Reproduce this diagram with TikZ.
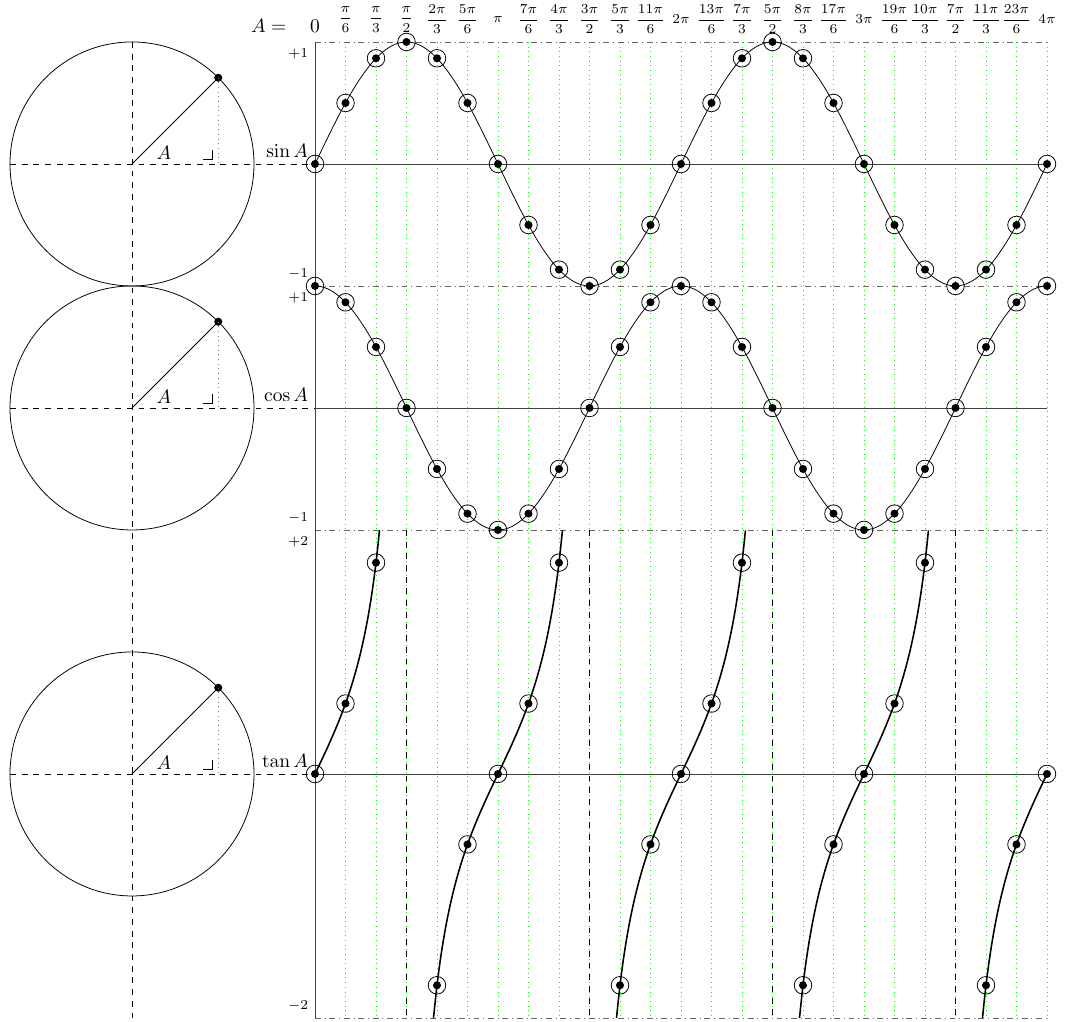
\documentclass[tikz,border=0pt]{standalone}
\usepackage{amsmath}
\usepackage{tikz}
\usetikzlibrary{positioning}

\begin{document}
\begin{tikzpicture}[x=2.2cm, y=2.2cm,
    axisline/.style={black!75},
    limline/.style={black!60, dash dot},
    gridline/.style={green, dotted},
    ticklbl/.style={font=\fontsize{7.5}{9}\selectfont},
    curve/.style={black},
    tancurve/.style={black, thick}]
    \useasboundingbox (-2.582,-7.025) rectangle (6.164,1.344);

    % grid and limits
    \foreach \k in {1,...,24}
        \draw[gridline] ({\k/4},1) -- ({\k/4},-7);
    \foreach \y in {1,-1,-3,-7}
        \draw[limline] (0,\y) -- (6,\y);
    \foreach \x in {0.75,2.25,3.75,5.25}
        \draw[dashed] (\x,-3) -- (\x,-7);
    \draw[axisline] (0,1) -- (0,-7);
    \foreach \y in {0,-2,-5}
        \draw[axisline] (0,\y) -- (6,\y);

    % labels for A
    \node (Aeq) at (-0.38,1.13) {$A=$};
    \node (lbl0) at (0,1.13) {$0$};
    \foreach \k/\t in {1/\dfrac{\pi}{6}, 2/\dfrac{\pi}{3}, 3/\dfrac{\pi}{2}, 4/\dfrac{2\pi}{3},
        5/\dfrac{5\pi}{6}, 6/\pi, 7/\dfrac{7\pi}{6}, 8/\dfrac{4\pi}{3}, 9/\dfrac{3\pi}{2},
        10/\dfrac{5\pi}{3}, 11/\dfrac{11\pi}{6}, 12/2\pi, 13/\dfrac{13\pi}{6}, 14/\dfrac{7\pi}{3},
        15/\dfrac{5\pi}{2}, 16/\dfrac{8\pi}{3}, 17/\dfrac{17\pi}{6}, 18/3\pi, 19/\dfrac{19\pi}{6},
        20/\dfrac{10\pi}{3}, 21/\dfrac{7\pi}{2}, 22/\dfrac{11\pi}{3}, 23/\dfrac{23\pi}{6}, 24/4\pi}
        \node[ticklbl, inner sep=0pt] (lbl\k) at ({\k/4},1.185) {$\t$};

    % value ticks
    \node[ticklbl, below left] (sinhi) at (0,1) {$+1$};
    \node[ticklbl, above left] (sinlo) at (0,-1) {$-1$};
    \node[ticklbl, below left] (coshi) at (0,-1) {$+1$};
    \node[ticklbl, above left] (coslo) at (0,-3) {$-1$};
    \node[ticklbl, below left] (tanhi) at (0,-3) {$+2$};
    \node[ticklbl, above left] (tanlo) at (0,-7) {$-2$};

    % unit circles
    \draw[dashed] (-1.5,1) -- (-1.5,-7);
    \foreach \cy/\fn in {0/sin, -2/cos, -5/tan} {
        \draw (-1.5,\cy) circle (1);
        \draw[dashed] (-2.5,\cy) -- (0,\cy);
        \draw (-1.5,\cy) -- (-0.793,\cy+0.707);
        \fill (-0.793,\cy+0.707) circle (0.033);
        \draw[gray, dotted] (-0.793,\cy+0.707) -- (-0.793,\cy);
        \draw (-0.918,\cy+0.041) -- (-0.844,\cy+0.041) -- (-0.844,\cy+0.115);
        \node (A\fn) at (-1.238,\cy+0.09) {$A$};
        \node[above left] (f\fn) at (0,\cy) {$\csname \fn\endcsname A$};
    }

    % curves
    \draw[curve] plot[domain=0:6, samples=120, smooth] (\x, {sin(\x*120)});
    \draw[curve] plot[domain=0:6, samples=120, smooth] (\x, {-2+cos(\x*120)});
    \foreach \a/\b in {0/0.5286, 0.9714/2.0286, 2.4714/3.5286, 3.9714/5.0286, 5.4714/6}
        \draw[tancurve] plot[domain=\a:\b, samples=40, smooth] (\x, {-5+tan(\x*120)});

    % marked values
    \foreach \k in {0,...,24} {
        \fill ({\k/4},{sin(\k*30)}) circle (0.033);
        \draw ({\k/4},{sin(\k*30)}) circle (0.072);
        \fill ({\k/4},{-2+cos(\k*30)}) circle (0.033);
        \draw ({\k/4},{-2+cos(\k*30)}) circle (0.072);
    }
    \foreach \k in {0,1,2,4,5,6,7,8,10,11,12,13,14,16,17,18,19,20,22,23,24} {
        \fill ({\k/4},{-5+tan(\k*30)}) circle (0.033);
        \draw ({\k/4},{-5+tan(\k*30)}) circle (0.072);
    }
\end{tikzpicture}
\end{document}
